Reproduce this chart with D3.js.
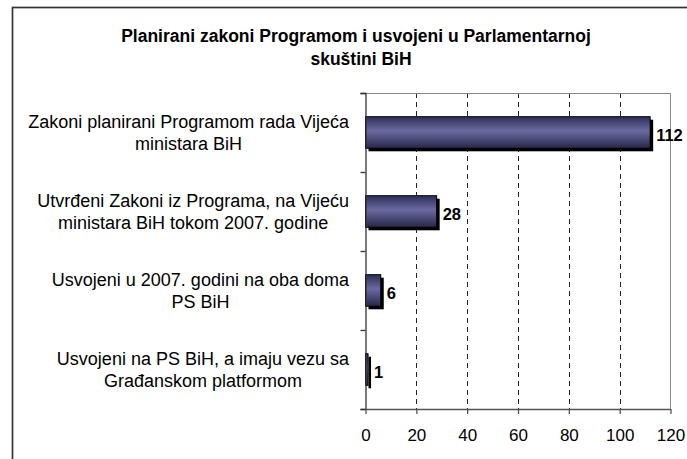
<!DOCTYPE html>
<html>
<head>
<meta charset="utf-8">
<script src="https://cdn.jsdelivr.net/npm/d3@7"></script>
<style>
  body { margin: 0; background: #fff; }
  svg { display: block; font-family: "Liberation Sans", Arial, sans-serif; }
</style>
</head>
<body>
<svg id="chart" width="687" height="459"></svg>
<script>
// data
const categories = [
    "Zakoni planirani Programom rada Vijeća|ministara BiH",
    "Utvrđeni Zakoni iz Programa, na Vijeću|ministara BiH tokom 2007. godine",
    "Usvojeni u 2007. godini na oba doma|PS BiH",
    "Usvojeni na PS BiH, a imaju vezu sa|Građanskom platformom"
];
const values = [112, 28, 6, 1];
const xTicks = [0, 20, 40, 60, 80, 100, 120];
const titleLines = ["Planirani zakoni Programom i usvojeni u Parlamentarnoj", "skuštini BiH"];

const margin = {top: 93, left: 365.5, right: 670.5, bottom: 409};
const svg = d3.select("#chart");

// gradient for the bars (dark edges, lighter middle)
const grad = svg.append("defs").append("linearGradient")
    .attr("id", "barGrad")
    .attr("x1", 0).attr("y1", 0).attr("x2", 0).attr("y2", 1);
grad.append("stop").attr("offset", "0%").attr("stop-color", "#2e2e58");
grad.append("stop").attr("offset", "45%").attr("stop-color", "#6a6aa2");
grad.append("stop").attr("offset", "100%").attr("stop-color", "#262648");

// outer frame
svg.append("rect")
    .attr("x", 12.5).attr("y", 7.5)
    .attr("width", 720).attr("height", 500)
    .attr("fill", "none")
    .attr("stroke", "#333")
    .attr("stroke-width", 1.7);

// title
svg.append("text")
    .attr("text-anchor", "middle")
    .style("font-weight", "bold")
    .style("font-size", "17.5px")
    .selectAll("tspan")
        .data(titleLines)
    .enter().append("tspan")
        .attr("x", (d, i) => i ? 361 : 356)
        .attr("y", (d, i) => 41.5 + i * 23.5)
        .text(d => d);

const x = d3.scaleLinear()
    .domain([0, 120])
    .range([margin.left, margin.right]);

const y = d3.scaleBand()
    .domain(categories)
    .range([margin.top, margin.bottom])
    .paddingInner(0.6)
    .paddingOuter(0.3);

const yIdx = d3.scaleLinear()
    .domain([0, categories.length])
    .range([margin.top, margin.bottom]);

// gridlines
svg.append("g")
    .attr("stroke", "#222")
    .attr("stroke-dasharray", "5,4")
    .selectAll("line")
        .data(xTicks.slice(1, -1))
    .enter().append("line")
        .attr("x1", d => Math.round(x(d)) + 0.5)
        .attr("x2", d => Math.round(x(d)) + 0.5)
        .attr("y1", margin.top)
        .attr("y2", margin.bottom);

// plot border top / right
svg.append("path")
    .attr("d", `M${margin.left},${margin.top + 0.5}H${margin.right}V${margin.bottom}`)
    .attr("fill", "none")
    .attr("stroke", "#8a8a8a");

// shadows then bars
svg.append("g")
    .attr("fill", "#000")
    .selectAll("rect")
        .data(values)
    .enter().append("rect")
        .attr("x", x(0) + 3)
        .attr("y", (d, i) => y(categories[i]) + 3)
        .attr("width", d => x(d) - x(0))
        .attr("height", y.bandwidth());

svg.append("g")
    .attr("fill", "url(#barGrad)")
    .attr("stroke", "#000")
    .selectAll("rect")
        .data(values)
    .enter().append("rect")
        .attr("x", x(0))
        .attr("y", (d, i) => y(categories[i]))
        .attr("width", d => x(d) - x(0))
        .attr("height", y.bandwidth());

// value labels
svg.append("g")
    .style("font-weight", "bold")
    .style("font-size", "16.5px")
    .selectAll("text")
        .data(values)
    .enter().append("text")
        .attr("x", d => x(d) + 6)
        .attr("y", (d, i) => y(categories[i]) + y.bandwidth() / 2 + 3)
        .attr("dy", "0.35em")
        .text(d => d);

// axes
svg.append("g")
    .attr("transform", `translate(${margin.left},0)`)
    .call(d3.axisLeft(yIdx).ticks(categories.length).tickSize(5).tickFormat(""))
    .call(g => g.selectAll("path, line").attr("stroke", "#333").attr("stroke-width", 1.3));

svg.append("g")
    .attr("transform", `translate(0,${margin.bottom})`)
    .call(d3.axisBottom(x).tickValues(xTicks).tickSize(5).tickPadding(15).tickSizeOuter(0))
    .call(g => g.selectAll("path, line").attr("stroke", "#555").attr("stroke-width", 1.3))
    .call(g => g.selectAll("text")
        .attr("fill", "#000")
        .style("font-size", "17px")
        .style("font-family", "'Liberation Sans', Arial, sans-serif"));

// category labels: block right-aligned, lines centered inside the block
const labels = svg.append("g")
    .style("font-size", "18px")
    .attr("text-anchor", "middle");

categories.forEach((c, i) => {
    const lines = c.split("|");
    const cy = y(c) + y.bandwidth() / 2;
    const t = labels.append("text");
    const spans = t.selectAll("tspan")
        .data(lines)
        .enter().append("tspan")
            .attr("y", (d, j) => cy + (j - (lines.length - 1) / 2) * 21.5)
            .attr("dy", "0.35em")
            .text(d => d);
    const w = d3.max(spans.nodes(), n => n.getComputedTextLength());
    spans.attr("x", 349 - w / 2);
});
</script>
</body>
</html>
